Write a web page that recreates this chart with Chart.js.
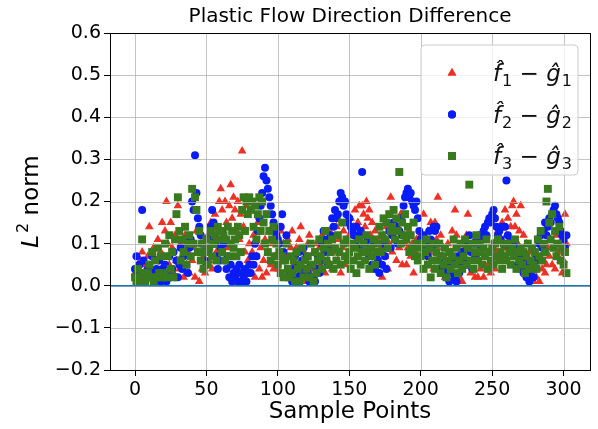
<!DOCTYPE html>
<html>
<head>
<meta charset="utf-8">
<script src="https://cdn.jsdelivr.net/npm/chart.js@4.4.0/dist/chart.umd.min.js"></script>
<style>
  body { margin: 0; background: #fff; }
</style>
</head>
<body>
<canvas id="flowChart" width="598" height="429"></canvas>
<script>
// L2 norm of the difference per sample point, one array per component
const f1g1 = [
  0.03,0.02,0.05,0.01,0.06,0.08,0.03,0.05,0.02,0.07,
  0.14,0.04,0.02,0.09,0.01,0.06,0.11,0.03,0.08,0.15,
  0.07,0.13,0.20,0.10,0.05,0.15,0.09,0.03,0.12,0.06,
  0.19,0.04,0.10,0.07,0.02,0.12,0.05,0.08,0.03,0.11,
  0.06,0.09,0.02,0.13,0.08,0.01,0.10,0.04,0.07,0.03,
  0.09,0.12,0.06,0.15,0.04,0.11,0.17,0.08,0.13,0.20,
  0.23,0.18,0.12,0.20,0.15,0.09,0.19,0.24,0.16,0.21,
  0.18,0.13,0.20,0.11,0.17,0.32,0.14,0.08,0.19,0.06,
  0.10,0.03,0.08,0.12,0.02,0.07,0.15,0.04,0.09,0.02,
  0.06,0.11,0.03,0.08,0.13,0.05,0.10,0.04,0.07,0.12,
  0.04,0.08,0.13,0.06,0.10,0.02,0.07,0.11,0.03,0.09,
  0.13,0.05,0.02,0.09,0.04,0.11,0.14,0.03,0.08,0.01,
  0.07,0.10,0.12,0.04,0.02,0.08,0.05,0.10,0.03,0.09,
  0.05,0.12,0.08,0.03,0.10,0.06,0.13,0.09,0.04,0.11,
  0.08,0.14,0.06,0.11,0.03,0.09,0.13,0.05,0.10,0.07,
  0.12,0.16,0.09,0.14,0.18,0.11,0.15,0.19,0.13,0.19,
  0.17,0.14,0.20,0.16,0.18,0.12,0.15,0.10,0.13,0.08,
  0.11,0.05,0.09,0.02,0.12,0.07,0.14,0.04,0.10,0.21,
  0.08,0.15,0.11,0.06,0.13,0.09,0.17,0.05,0.12,0.10,
  0.05,0.09,0.13,0.07,0.10,0.03,0.08,0.11,0.06,0.09,
  0.12,0.07,0.17,0.10,0.05,0.13,0.08,0.15,0.09,0.04,
  0.15,0.11,0.21,0.07,0.12,0.04,0.09,0.02,0.06,0.10,
  0.03,0.08,0.13,0.05,0.18,0.12,0.09,0.02,0.07,0.01,
  0.05,0.09,0.12,0.17,0.08,0.03,0.10,0.06,0.02,0.07,
  0.02,0.06,0.04,0.09,0.02,0.07,0.11,0.05,0.08,0.03,
  0.06,0.10,0.04,0.08,0.13,0.07,0.11,0.15,0.09,0.18,
  0.12,0.16,0.09,0.14,0.19,0.20,0.14,0.17,0.10,0.13,
  0.19,0.08,0.12,0.06,0.10,0.04,0.08,0.02,0.06,0.01,
  0.05,0.02,0.07,0.01,0.06,0.04,0.08,0.03,0.05,0.09,
  0.07,0.11,0.05,0.09,0.04,0.12,0.08,0.10,0.06,0.03,
  0.06,0.17,0.10
];
const f2g2 = [
  0.04,0.07,0.03,0.05,0.02,0.18,0.06,0.01,0.03,0.04,
  0.05,0.02,0.07,0.03,0.01,0.04,0.02,0.06,0.01,0.04,
  0.02,0.05,0.01,0.03,0.07,0.02,0.04,0.08,0.02,0.06,
  0.02,0.05,0.09,0.04,0.07,0.11,0.05,0.03,0.09,0.11,
  0.20,0.18,0.31,0.22,0.16,0.14,0.12,0.10,0.08,0.06,
  0.05,0.08,0.11,0.14,0.18,0.15,0.10,0.07,0.04,0.06,
  0.09,0.13,0.10,0.06,0.04,0.07,0.02,0.05,0.01,0.03,
  0.02,0.04,0.01,0.05,0.03,0.01,0.02,0.04,0.01,0.03,
  0.05,0.03,0.07,0.05,0.10,0.07,0.13,0.16,0.19,0.22,
  0.26,0.28,0.25,0.23,0.21,0.19,0.17,0.15,0.13,0.12,
  0.11,0.10,0.14,0.17,0.08,0.06,0.12,0.04,0.02,0.03,
  0.01,0.04,0.07,0.02,0.05,0.08,0.03,0.06,0.09,0.04,
  0.07,0.03,0.01,0.05,0.01,0.02,0.01,0.04,0.07,0.03,
  0.06,0.10,0.13,0.08,0.11,0.05,0.09,0.12,0.16,0.14,
  0.18,0.16,0.17,0.20,0.22,0.21,0.19,0.20,0.17,0.15,
  0.16,0.14,0.13,0.12,0.10,0.14,0.12,0.09,0.13,0.27,
  0.12,0.10,0.08,0.11,0.07,0.09,0.05,0.10,0.04,0.07,
  0.06,0.03,0.08,0.05,0.10,0.07,0.04,0.09,0.13,0.09,
  0.12,0.15,0.11,0.14,0.10,0.13,0.16,0.12,0.19,0.21,
  0.22,0.23,0.21,0.22,0.20,0.19,0.18,0.20,0.16,0.13,
  0.11,0.09,0.12,0.08,0.10,0.07,0.13,0.11,0.09,0.14,
  0.13,0.14,0.10,0.06,0.04,0.07,0.03,0.05,0.02,0.04,
  0.01,0.05,0.03,0.06,0.02,0.01,0.07,0.03,0.05,0.08,
  0.06,0.10,0.05,0.09,0.12,0.08,0.04,0.10,0.07,0.11,
  0.10,0.12,0.09,0.11,0.13,0.14,0.12,0.15,0.16,0.15,
  0.17,0.18,0.16,0.14,0.12,0.13,0.11,0.14,0.10,0.14,
  0.25,0.12,0.09,0.11,0.08,0.10,0.07,0.09,0.05,0.07,
  0.04,0.06,0.03,0.05,0.02,0.04,0.01,0.03,0.05,0.02,
  0.04,0.07,0.06,0.10,0.12,0.09,0.13,0.15,0.12,0.14,
  0.16,0.15,0.17,0.18,0.19,0.17,0.16,0.15,0.13,0.12,
  0.11,0.09,0.12
];
const f3g3 = [
  0.02,0.01,0.04,0.02,0.01,0.11,0.03,0.01,0.02,0.03,
  0.05,0.02,0.08,0.01,0.06,0.02,0.09,0.03,0.07,0.02,
  0.03,0.10,0.02,0.07,0.12,0.04,0.08,0.02,0.11,0.17,
  0.21,0.13,0.06,0.11,0.08,0.14,0.05,0.10,0.12,0.07,
  0.23,0.10,0.21,0.18,0.08,0.13,0.06,0.10,0.04,0.08,
  0.11,0.05,0.09,0.13,0.07,0.10,0.12,0.06,0.14,0.11,
  0.13,0.08,0.12,0.06,0.11,0.14,0.07,0.10,0.13,0.09,
  0.11,0.07,0.14,0.12,0.08,0.18,0.21,0.13,0.20,0.17,
  0.21,0.18,0.20,0.14,0.19,0.11,0.17,0.21,0.13,0.20,
  0.15,0.10,0.17,0.08,0.13,0.06,0.11,0.14,0.07,0.10,
  0.05,0.08,0.03,0.07,0.02,0.06,0.10,0.04,0.02,0.07,
  0.03,0.06,0.01,0.08,0.04,0.01,0.05,0.09,0.02,0.06,
  0.04,0.07,0.02,0.10,0.05,0.01,0.08,0.03,0.06,0.11,
  0.07,0.04,0.09,0.13,0.06,0.10,0.05,0.08,0.11,0.04,
  0.09,0.06,0.12,0.08,0.05,0.15,0.10,0.07,0.11,0.06,
  0.08,0.04,0.10,0.06,0.09,0.03,0.07,0.11,0.05,0.08,
  0.10,0.06,0.12,0.08,0.04,0.09,0.07,0.11,0.05,0.08,
  0.10,0.14,0.08,0.12,0.16,0.11,0.15,0.09,0.17,0.13,
  0.14,0.18,0.11,0.16,0.13,0.27,0.10,0.15,0.12,0.17,
  0.11,0.14,0.08,0.12,0.09,0.15,0.07,0.10,0.06,0.09,
  0.07,0.10,0.04,0.08,0.11,0.05,0.09,0.02,0.06,0.10,
  0.04,0.08,0.06,0.10,0.03,0.07,0.05,0.09,0.02,0.06,
  0.08,0.04,0.07,0.11,0.05,0.09,0.03,0.06,0.10,0.04,
  0.07,0.11,0.05,0.09,0.24,0.06,0.10,0.04,0.08,0.12,
  0.06,0.10,0.08,0.05,0.09,0.07,0.11,0.04,0.08,0.06,
  0.09,0.05,0.10,0.07,0.11,0.06,0.08,0.04,0.10,0.07,
  0.06,0.10,0.08,0.05,0.09,0.07,0.11,0.04,0.08,0.06,
  0.09,0.05,0.08,0.03,0.07,0.10,0.04,0.06,0.09,0.05,
  0.08,0.04,0.11,0.07,0.13,0.06,0.10,0.08,0.20,0.23,
  0.15,0.11,0.17,0.09,0.13,0.07,0.10,0.14,0.06,0.09,
  0.05,0.08,0.03
];

const legendLabels = ['f\u0302\u2081 \u2212 g\u0302\u2081', 'f\u0302\u2082 \u2212 g\u0302\u2082', 'f\u0302\u2083 \u2212 g\u0302\u2083'];
const xTicks = [0, 50, 100, 150, 200, 250, 300];
const yTicks = [-0.2, -0.1, 0.0, 0.1, 0.2, 0.3, 0.4, 0.5, 0.6];

const FONT = "'DejaVu Sans', sans-serif";
const RED = '#ee3124';
const BLUE = '#0a1cf5';
const GREEN = '#3a7a1f';

const toPoints = vals => vals.map((v, i) => ({ x: i, y: v }));
const fmtTick = v => v.toFixed(1).replace('-', '\u2212');

// grid on top of markers, zero line, full frame, legend box, titles
const decorations = {
  id: 'decorations',
  afterDatasetsDraw(chart) {
    const { ctx, chartArea: a, scales: { x, y } } = chart;
    ctx.save();
    ctx.strokeStyle = 'rgba(176,176,176,0.75)';
    ctx.lineWidth = 1;
    xTicks.forEach(v => {
      const px = Math.round(x.getPixelForValue(v)) + 0.5;
      ctx.beginPath(); ctx.moveTo(px, a.top); ctx.lineTo(px, a.bottom); ctx.stroke();
    });
    yTicks.forEach(v => {
      const py = Math.round(y.getPixelForValue(v)) + 0.5;
      ctx.beginPath(); ctx.moveTo(a.left, py); ctx.lineTo(a.right, py); ctx.stroke();
    });
    // y = 0 reference
    const y0 = y.getPixelForValue(0);
    ctx.strokeStyle = '#1f77b4';
    ctx.lineWidth = 1.5;
    ctx.beginPath(); ctx.moveTo(a.left, y0); ctx.lineTo(a.right, y0); ctx.stroke();
    // frame
    ctx.strokeStyle = '#000';
    ctx.lineWidth = 1;
    ctx.strokeRect(Math.round(a.left) + 0.5, Math.round(a.top) + 0.5,
                   Math.round(a.right - a.left), Math.round(a.bottom - a.top));
    ctx.restore();
  },
  afterDraw(chart) {
    const { ctx, chartArea: a } = chart;
    ctx.save();
    ctx.fillStyle = '#000';

    // title
    ctx.font = `20px ${FONT}`;
    ctx.textAlign = 'center';
    ctx.textBaseline = 'middle';
    ctx.fillText('Plastic Flow Direction Difference', (a.left + a.right) / 2, 17);

    // y-axis title: italic L, superscript 2
    ctx.translate(30, (a.top + a.bottom) / 2);
    ctx.rotate(-Math.PI / 2);
    const pieces = [
      { t: 'L', f: `italic 23px ${FONT}`, dy: 0 },
      { t: '2', f: `16px ${FONT}`, dy: -10 },
      { t: ' norm', f: `23px ${FONT}`, dy: 0 }
    ];
    let w = 0;
    pieces.forEach(p => { ctx.font = p.f; w += ctx.measureText(p.t).width + (p.t === 'L' ? 2 : 0); });
    let cx = -w / 2;
    ctx.textAlign = 'left';
    ctx.textBaseline = 'alphabetic';
    pieces.forEach(p => {
      ctx.font = p.f;
      ctx.fillText(p.t, cx, 8 + p.dy);
      cx += ctx.measureText(p.t).width + (p.t === 'L' ? 2 : 0);
    });
    ctx.setTransform(1, 0, 0, 1, 0, 0);

    // legend
    const bx = 421, by = 45, bw = 157, bh = 130, r = 4;
    ctx.beginPath();
    ctx.moveTo(bx + r, by);
    ctx.arcTo(bx + bw, by, bx + bw, by + bh, r);
    ctx.arcTo(bx + bw, by + bh, bx, by + bh, r);
    ctx.arcTo(bx, by + bh, bx, by, r);
    ctx.arcTo(bx, by, bx + bw, by, r);
    ctx.closePath();
    ctx.fillStyle = 'rgba(255,255,255,0.8)';
    ctx.fill();
    ctx.strokeStyle = '#cccccc';
    ctx.lineWidth = 1;
    ctx.stroke();

    chart.data.datasets.forEach((ds, i) => {
      const rowY = 73 + i * 41.5;
      ctx.fillStyle = ds.backgroundColor;
      ctx.beginPath();
      Chart.helpers.drawPoint(ctx, {
        pointStyle: ds.pointStyle, radius: ds.pointRadius, borderWidth: 0
      }, 452, rowY);
      ctx.fill();

      // label: italic letters, subscript digits drawn smaller and lowered
      ctx.fillStyle = '#111';
      ctx.textAlign = 'left';
      ctx.textBaseline = 'alphabetic';
      let tx = 493;
      const base = rowY + 8;
      const tokens = ds.label.match(/[a-z]\u0302?|[\u2080-\u2089]|./g);
      tokens.forEach(tok => {
        if (/[\u2080-\u2089]/.test(tok)) {
          ctx.font = `16px ${FONT}`;
          const d = String(tok.charCodeAt(0) - 0x2080);
          ctx.fillText(d, tx, base + 5);
          tx += ctx.measureText(d).width;
        } else if (/[a-z]/.test(tok)) {
          ctx.font = `italic 23px ${FONT}`;
          ctx.fillText(tok, tx, base);
          tx += ctx.measureText(tok).width + 1;
        } else {
          ctx.font = `23px ${FONT}`;
          ctx.fillText(tok, tx, base);
          tx += ctx.measureText(tok).width;
        }
      });
    });
    ctx.restore();
  }
};

new Chart(document.getElementById('flowChart'), {
  type: 'scatter',
  data: {
    datasets: [
      { label: legendLabels[0], data: toPoints(f1g1), pointStyle: 'triangle', pointRadius: 5,
        backgroundColor: RED, borderColor: RED, borderWidth: 0, order: 3 },
      { label: legendLabels[1], data: toPoints(f2g2), pointStyle: 'circle', pointRadius: 4,
        backgroundColor: BLUE, borderColor: BLUE, borderWidth: 0, order: 2 },
      { label: legendLabels[2], data: toPoints(f3g3), pointStyle: 'rect', pointRadius: 5.6,
        backgroundColor: GREEN, borderColor: GREEN, borderWidth: 0, order: 1 }
    ]
  },
  options: {
    responsive: false,
    animation: false,
    events: [],
    layout: { padding: { top: 33, right: 8, left: 0, bottom: 0 } },
    plugins: { legend: { display: false }, tooltip: { enabled: false } },
    scales: {
      x: {
        type: 'linear',
        min: -17.5,
        max: 318.5,
        afterBuildTicks: s => { s.ticks = xTicks.map(v => ({ value: v })); },
        afterFit: s => { s.height = 59; },
        ticks: { color: '#000', font: { family: FONT, size: 19 }, padding: 3, maxRotation: 0, autoSkip: false },
        grid: { drawOnChartArea: false, tickLength: 6, tickColor: '#000' },
        border: { color: '#000' },
        title: { display: true, text: 'Sample Points', color: '#000',
                 font: { family: FONT, size: 23 }, padding: { top: 0, bottom: 3 } }
      },
      y: {
        min: -0.2,
        max: 0.6,
        afterBuildTicks: s => { s.ticks = yTicks.map(v => ({ value: v })); },
        afterFit: s => { s.width = 110; },
        ticks: { color: '#000', font: { family: FONT, size: 19 }, padding: 3, callback: fmtTick },
        grid: { drawOnChartArea: false, tickLength: 6, tickColor: '#000' },
        border: { color: '#000' }
      }
    }
  },
  plugins: [decorations]
});
</script>
</body>
</html>
